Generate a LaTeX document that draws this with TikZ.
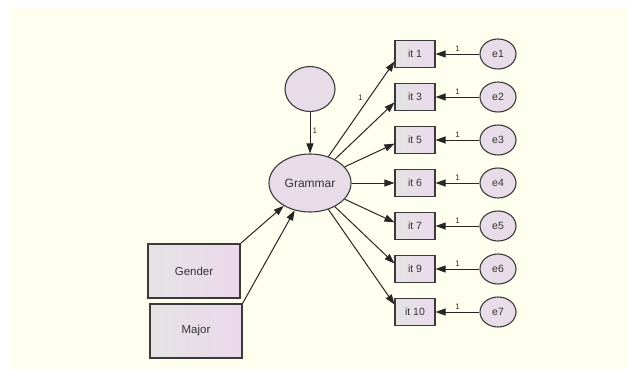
\documentclass[tikz,border=0pt]{standalone}
\usepackage{fontspec}
\setmainfont{Liberation Sans}
\usetikzlibrary{shapes.geometric,arrows.meta,calc}
\definecolor{bgcream}{HTML}{FFFFF0}
\definecolor{boxleft}{HTML}{E4E4E4}
\definecolor{boxright}{HTML}{ECD8EC}
\definecolor{ellfill}{HTML}{E9DCE9}
\definecolor{edgecol}{HTML}{3A3A3A}
\definecolor{txtcol}{HTML}{333333}
\tikzset{
  obsbox/.style={draw=edgecol, line width=1.1pt, left color=boxleft, right color=boxright,
    minimum width=40pt, minimum height=27pt, inner sep=0pt, text=txtcol, font=\fontsize{10.5}{12}\selectfont},
  bigbox/.style={obsbox, minimum width=92pt, minimum height=54pt, font=\fontsize{11.5}{13}\selectfont},
  latent/.style={ellipse, draw=edgecol, line width=1.1pt, fill=ellfill, inner sep=0pt, text=txtcol},
  errc/.style={latent, minimum width=36pt, minimum height=30pt, font=\fontsize{10.5}{12}\selectfont},
  path/.style={draw=black!85, line width=1pt, -{Triangle[length=10pt,width=7pt]}},
  one/.style={font=\fontsize{8}{9}\selectfont, text=txtcol, inner sep=1pt}
}
\begin{document}
\begin{tikzpicture}[x=1pt,y=-1pt]
\useasboundingbox (0,0) rectangle (628,369);
\fill[bgcream] (9,7) rectangle (628,369);
% latent variables
\node[latent, minimum width=50pt, minimum height=45pt] (c) at (310,89) {};
\node[latent, minimum width=82pt, minimum height=58pt, font=\fontsize{12}{14}\selectfont] (g) at (310,183) {Grammar};
% exogenous boxes
\node[bigbox] (gender) at (194,271) {Gender};
\node[bigbox] (major) at (196,331) {Major};
% item boxes and errors
\foreach \n/\lab/\e/\y in {it1/it 1/e1/54, it3/it 3/e2/97, it5/it 5/e3/140, it6/it 6/e4/183, it7/it 7/e5/226, it9/it 9/e6/269, it10/it 10/e7/312}{
  \node[obsbox] (\n) at (415,\y) {\lab};
  \node[errc] (\e) at (498,\y) {\e};
  \draw[path] (\e) -- (\n) node[pos=0.5, above, one, yshift=1pt] {1};
}
% paths
\draw[path] (c) -- (g) node[pos=0.45, right, one, xshift=1pt] {1};
\draw[path] (gender.north east) -- (g);
\draw[path] (major.north east) -- (g);
\draw[path] (g) -- (it1.200) node[pos=0.62, left, one, xshift=-5pt] {1};
\draw[path] (g) -- (it3.195);
\draw[path] (g) -- (it5.190);
\draw[path] (g) -- (it6.west);
\draw[path] (g) -- (it7.170);
\draw[path] (g) -- (it9.165);
\draw[path] (g) -- (it10.160);
\end{tikzpicture}
\end{document}
